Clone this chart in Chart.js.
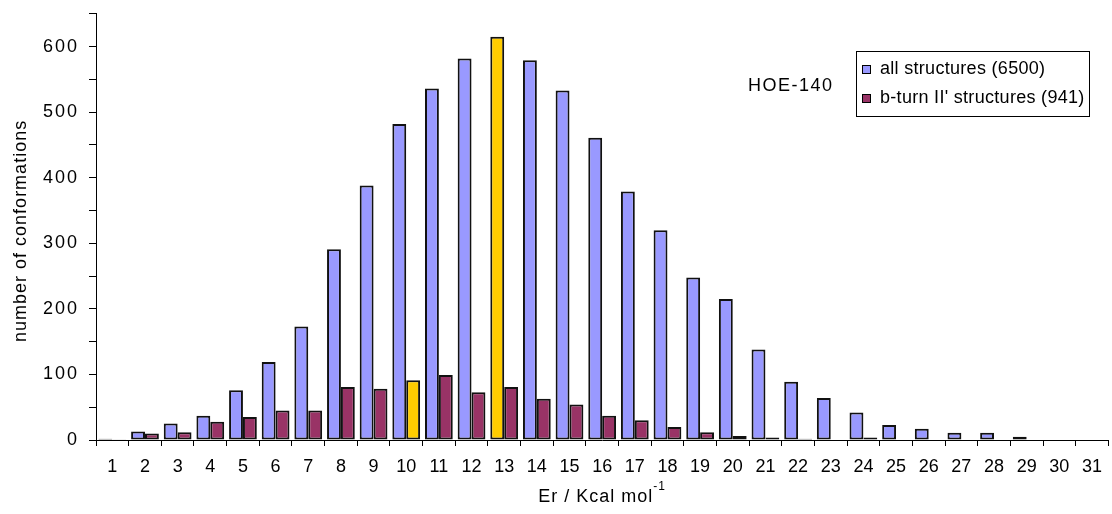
<!DOCTYPE html>
<html>
<head>
<meta charset="utf-8">
<script src="https://cdn.jsdelivr.net/npm/chart.js@4.4.1/dist/chart.umd.min.js"></script>
<style>
  html, body { margin: 0; padding: 0; background: #fff; }
  #wrap { position: relative; width: 1112px; height: 514px; }
</style>
</head>
<body>
<div id="wrap"><canvas id="histChart"></canvas></div>
<script>
// energy bins (Er, kcal/mol)
const categories = ['1','2','3','4','5','6','7','8','9','10','11','12','13','14','15','16',
                    '17','18','19','20','21','22','23','24','25','26','27','28','29','30','31'];

// all structures (6500)
const allStructures = [2, 13, 25, 37, 76, 119, 173, 291, 388, 482, 536, 582, 615, 579, 533, 461,
                       379, 320, 248, 215, 138, 89, 64, 42, 23, 17, 11, 11, 5, 0, 0];

// b-turn II' structures (941)
const bTurnStructures = [1, 10, 12, 28, 35, 45, 45, 81, 78, 91, 99, 73, 81, 63, 54, 37,
                         30, 20, 12, 6, 4, 2, 0, 4, 0, 0, 0, 0, 0, 0, 0];

const seriesLabels = ['all structures (6500)', "b-turn II' structures (941)"];
const yTicks = [0, 100, 200, 300, 400, 500, 600];

// highlighted bins (drawn yellow)
const highlightAll = '13';
const highlightTurn = '10';

const BLUE = '#9999FF';
const WINE = '#993366';
const YELLOW = '#FFCC00';
const FONT = "'Liberation Sans', Arial, sans-serif";

// y labels, axis titles, HOE-140 label and the framed legend
const extrasPlugin = {
    id: 'extras',
    afterDraw(chart) {
        const ctx = chart.ctx;
        const area = chart.chartArea;
        const yScale = chart.scales.y;
        ctx.save();
        ctx.fillStyle = '#000';
        ctx.textBaseline = 'middle';

        // y tick labels (wide spacing like the original)
        ctx.font = '18px ' + FONT;
        ctx.letterSpacing = '2px';
        ctx.textAlign = 'right';
        yTicks.forEach(v => {
            ctx.fillText(String(v), 79, yScale.getPixelForValue(v));
        });

        // y axis title
        ctx.letterSpacing = '1px';
        ctx.textAlign = 'center';
        ctx.save();
        ctx.translate(21, (area.top + area.bottom) / 2 + 4);
        ctx.rotate(-Math.PI / 2);
        ctx.fillText('number of conformations', 0, 0);
        ctx.restore();

        // x axis title: Er / Kcal mol^-1
        const main = 'Er / Kcal mol';
        const sup = '-1';
        ctx.textAlign = 'left';
        ctx.font = '18px ' + FONT;
        const w1 = ctx.measureText(main).width;
        ctx.font = '12px ' + FONT;
        const w2 = ctx.measureText(sup).width;
        const cx = (area.left + area.right) / 2;
        const x0 = cx - (w1 + w2) / 2;
        ctx.font = '18px ' + FONT;
        ctx.fillText(main, x0, 497);
        ctx.font = '12px ' + FONT;
        ctx.fillText(sup, x0 + w1, 487);

        // HOE-140
        ctx.font = '18px ' + FONT;
        ctx.letterSpacing = '1.5px';
        ctx.fillText('HOE-140', 748, 86);

        // legend frame
        const lx = 856, ly = 51, lw = 233, lh = 65;
        ctx.fillStyle = '#fff';
        ctx.fillRect(lx, ly, lw, lh);
        ctx.strokeStyle = '#000';
        ctx.lineWidth = 1;
        ctx.strokeRect(lx + 0.5, ly + 0.5, lw, lh);

        const colors = [BLUE, WINE];
        ctx.font = '18px ' + FONT;
        ctx.letterSpacing = '0.3px';
        seriesLabels.forEach((txt, i) => {
            const cy = 69 + i * 29;
            ctx.fillStyle = colors[i];
            ctx.fillRect(862, cy - 4, 8, 8);
            ctx.strokeStyle = '#000';
            ctx.strokeRect(862.5, cy - 3.5, 8, 8);
            ctx.fillStyle = '#000';
            ctx.fillText(txt, 880, cy);
        });

        ctx.restore();
    }
};

const ctx = document.getElementById('histChart').getContext('2d');
const histChart = new Chart(ctx, {
    type: 'bar',
    data: {
        labels: categories,
        datasets: [{
            label: seriesLabels[0],
            data: allStructures,
            backgroundColor: categories.map(c => c === highlightAll ? YELLOW : BLUE),
            borderColor: '#111',
            borderWidth: 2,
            borderSkipped: false,
            categoryPercentage: 0.85,
            barPercentage: 1.0
        }, {
            label: seriesLabels[1],
            data: bTurnStructures,
            backgroundColor: categories.map(c => c === highlightTurn ? YELLOW : WINE),
            borderColor: '#111',
            borderWidth: 2,
            borderSkipped: false,
            categoryPercentage: 0.85,
            barPercentage: 1.0
        }]
    },
    options: {
        responsive: true,
        maintainAspectRatio: false,
        animation: false,
        layout: { padding: { top: 12, right: 0, left: 0, bottom: 0 } },
        plugins: {
            legend: { display: false },
            tooltip: { enabled: false }
        },
        scales: {
            x: {
                grid: {
                    display: true,
                    drawOnChartArea: false,
                    drawTicks: true,
                    tickLength: 6,
                    color: '#000',
                    offset: true
                },
                border: { color: '#000', width: 1 },
                ticks: {
                    color: '#000',
                    font: { family: FONT, size: 18 },
                    padding: 10,
                    maxRotation: 0,
                    autoSkip: false
                },
                afterFit: s => { s.height = 74; }
            },
            y: {
                min: 0,
                max: 650,
                grid: {
                    display: true,
                    drawOnChartArea: false,
                    drawTicks: true,
                    tickLength: 7,
                    color: '#000'
                },
                border: { color: '#000', width: 1 },
                ticks: {
                    stepSize: 50,
                    color: '#000',
                    font: { family: FONT, size: 18 },
                    // labels are drawn by the extras plugin
                    callback: () => ''
                },
                afterFit: s => { s.width = 96; }
            }
        }
    },
    plugins: [extrasPlugin]
});
</script>
</body>
</html>
